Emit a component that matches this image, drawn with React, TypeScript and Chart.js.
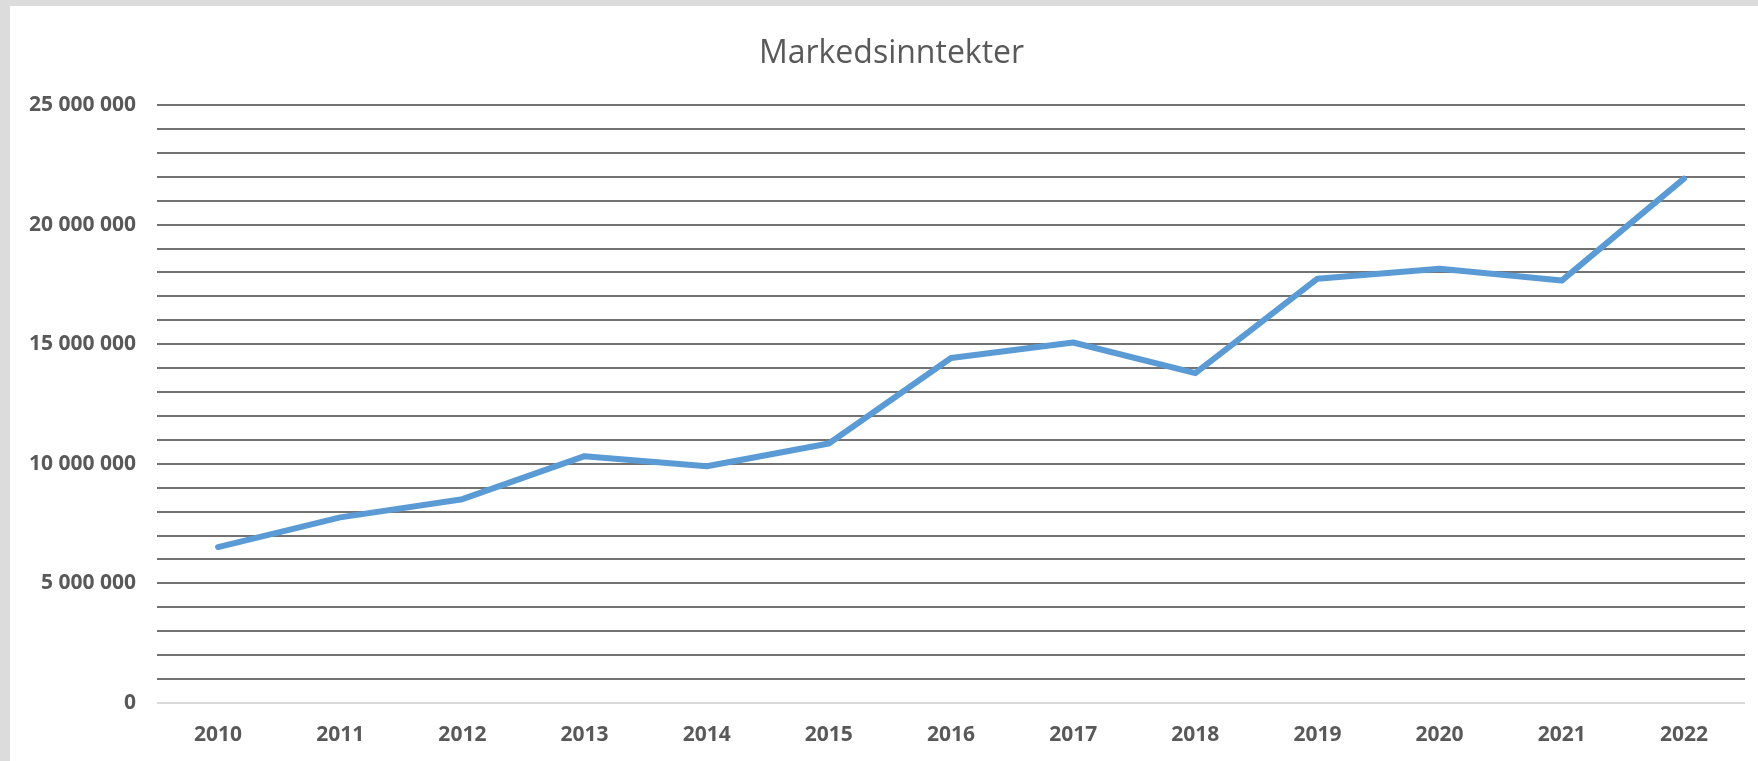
import React, { useEffect, useRef } from "react";
import { Chart, registerables } from "chart.js";

Chart.register(...registerables);

const years: string[] = ["2010", "2011", "2012", "2013", "2014", "2015", "2016", "2017", "2018", "2019", "2020", "2021", "2022"];
const revenues: number[] = [6520000, 7760000, 8520000, 10320000, 9900000, 10850000, 14420000, 15070000, 13790000, 17740000, 18150000, 17660000, 21920000];
const chartTitle = "Markedsinntekter";
const yMin = 0;
const yMax = 25000000;
const yStep = 1000000;
const yLabelEvery = 5000000;

const fmt = (v: number) => String(Math.round(v)).replace(/\B(?=(\d{3})+(?!\d))/g, " ");

export default function App() {
  const ref = useRef<HTMLCanvasElement | null>(null);

  useEffect(() => {
    document.body.style.margin = "0";
    const canvas = ref.current;
    if (!canvas) return;
    const chart = new Chart(canvas, {
      type: "line",
      data: {
        labels: years,
        datasets: [
          {
            label: chartTitle,
            data: revenues,
            borderColor: "#5b9bd5",
            backgroundColor: "#5b9bd5",
            borderWidth: 6,
            pointRadius: 0,
            pointHoverRadius: 0,
            tension: 0,
            borderJoinStyle: "round",
            borderCapStyle: "round",
            fill: false,
          },
        ],
      },
      options: {
        animation: false,
        responsive: true,
        maintainAspectRatio: false,
        layout: { padding: { left: 28, right: 13, top: 0, bottom: 0 } },
        plugins: {
          legend: { display: false },
          tooltip: { enabled: false },
          title: {
            display: true,
            text: chartTitle,
            color: "#595959",
            font: { family: "'Open Sans', sans-serif", size: 32, weight: "normal" as any, lineHeight: 1.2 },
            padding: { top: 29, bottom: 31.6 },
          },
        },
        scales: {
          x: {
            offset: true,
            grid: { display: false, drawTicks: false },
            border: { display: false },
            ticks: {
              color: "#595959",
              padding: 19,
              maxRotation: 0,
              autoSkip: false,
              font: { family: "'Open Sans', sans-serif", size: 21, weight: "bold" as any },
            },
            afterFit: (scale: any) => {
              scale.height = 58;
            },
          },
          y: {
            min: yMin,
            max: yMax,
            border: { display: false },
            grid: {
              drawTicks: false,
              lineWidth: 2,
              color: (ctx: any) => (ctx.tick && ctx.tick.value === 0 ? "#d9d9d9" : "#727272"),
            },
            ticks: {
              stepSize: yStep,
              autoSkip: false,
              padding: 21,
              color: "#595959",
              font: { family: "'Open Sans', sans-serif", size: 21, weight: "bold" as any },
              callback: (v: any) => (Number(v) % yLabelEvery === 0 ? fmt(Number(v)) : ""),
            },
            afterFit: (scale: any) => {
              scale.width = 119;
              scale._computeLabelArea = () => undefined;
            },
          },
        },
      },
    });
    return () => chart.destroy();
  }, []);

  return (
    <div style={{ position: "fixed", left: 0, top: 0, width: 1758, height: 761, background: "#dcdcdc" }}>
      <div style={{ position: "absolute", left: 10, top: 6, width: 1748, height: 755, background: "#ffffff" }}>
        <canvas ref={ref} />
      </div>
    </div>
  );
}
